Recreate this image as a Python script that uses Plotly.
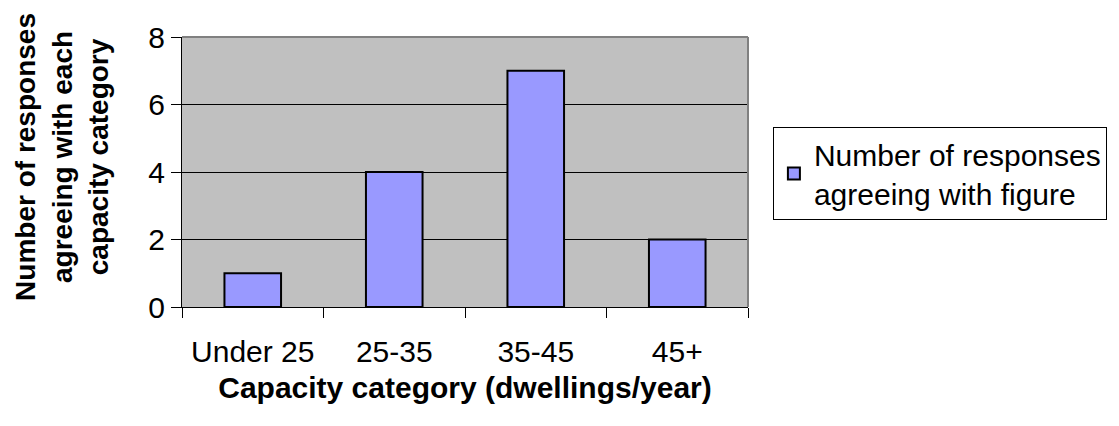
import plotly.graph_objects as go

# Capacity categories and how many responses agreed with each
categories = ["Under 25", "25-35", "35-45", "45+"]
responses = [1, 4, 7, 2]
series_name = "Number of responses<br>agreeing with figure"
y_ticks = [0, 2, 4, 6, 8]
y_title = "<b>Number of responses<br>agreeing with each<br>capacity category</b>"
x_title = "<b>Capacity category (dwellings/year)</b>"

FONT = "Liberation Sans, Arial, sans-serif"
SIZE = 30

fig = go.Figure()
fig.add_trace(go.Bar(
    x=categories,
    y=responses,
    name=series_name,
    marker=dict(color="#9999FF", line=dict(color="black", width=2)),
    showlegend=True,
))

fig.update_layout(
    width=1119,
    height=426,
    margin=dict(l=182, r=371, t=37, b=119),
    paper_bgcolor="white",
    plot_bgcolor="#C0C0C0",
    bargap=0.6,
    font=dict(family=FONT, size=SIZE, color="black"),
    showlegend=True,
    legend=dict(
        x=1.044, y=0.667, xanchor="left", yanchor="top",
        bgcolor="white", bordercolor="black", borderwidth=1,
        font=dict(family=FONT, size=SIZE, color="black"),
    ),
    xaxis=dict(
        type="category",
        range=[-0.5, 3.5],
        tickson="boundaries",
        ticks="outside", ticklen=10, tickcolor="black", tickwidth=1,
        ticklabelstandoff=18,
        showline=True, linecolor="black", linewidth=1,
        showgrid=False,
        tickfont=dict(size=SIZE),
        title=dict(text=x_title, font=dict(size=SIZE), standoff=9),
    ),
    yaxis=dict(
        range=[0, 8],
        tickvals=y_ticks,
        ticks="outside", ticklen=10, tickcolor="black", tickwidth=1,
        showline=True, linecolor="black", linewidth=1,
        showgrid=True, gridcolor="black", gridwidth=1,
        zeroline=False,
        tickfont=dict(size=SIZE),
    ),
    # Multi-line y-axis title placed as a rotated annotation
    annotations=[
        dict(text=y_title, textangle=-90, xref="paper", yref="paper",
             x=-0.212, y=0.556, xanchor="center", yanchor="middle",
             showarrow=False, align="center",
             font=dict(family=FONT, size=28, color="black")),
    ],
    shapes=[
        dict(type="line", xref="paper", yref="paper", x0=0, y0=1, x1=1, y1=1,
             line=dict(color="#808080", width=2), layer="above"),
        dict(type="line", xref="paper", yref="paper", x0=1, y0=0, x1=1, y1=1,
             line=dict(color="#808080", width=2), layer="above"),
    ],
)

fig.write_html("out.html")
